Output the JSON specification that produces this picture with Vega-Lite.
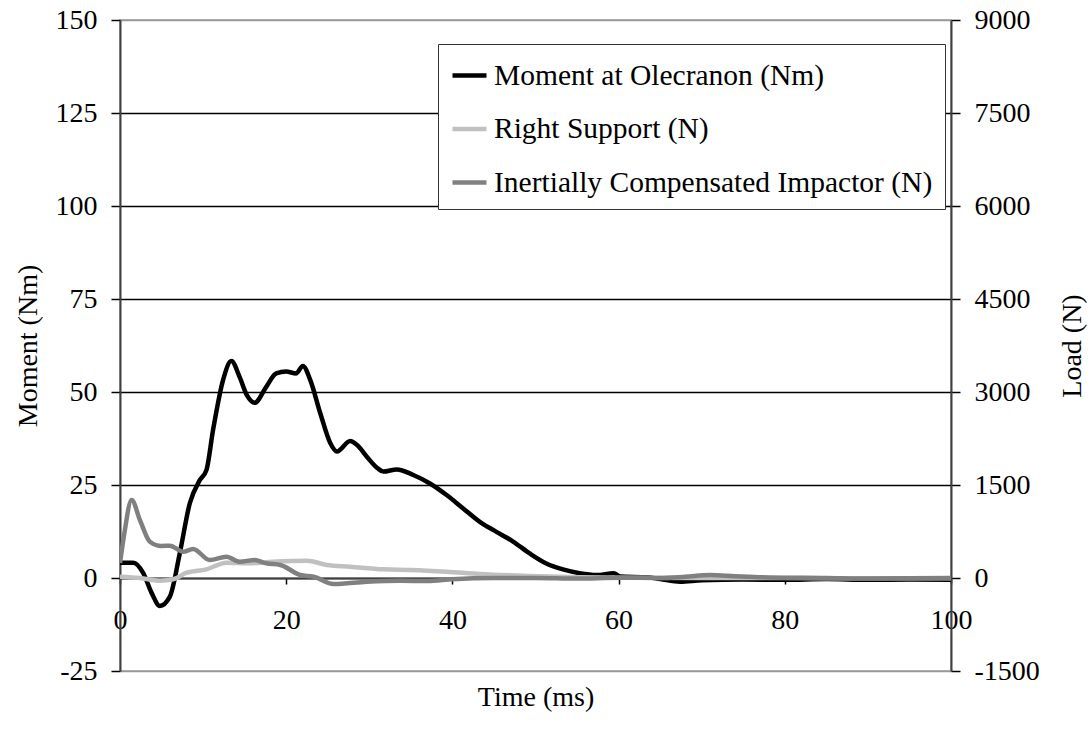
{
  "$schema": "https://vega.github.io/schema/vega-lite/v6.json",
  "width": 831,
  "height": 651,
  "autosize": {"type": "none"},
  "padding": {"left": 120, "top": 20, "right": 140, "bottom": 59},
  "background": "white",
  "config": {
    "font": "Liberation Serif",
    "view": {"stroke": "#999999", "strokeWidth": 1.5},
    "axis": {
      "labelFont": "Liberation Serif",
      "titleFont": "Liberation Serif",
      "labelFontSize": 28,
      "titleFontSize": 28,
      "labelColor": "black",
      "titleColor": "black",
      "titleFontWeight": "normal",
      "domainColor": "#404040",
      "domainWidth": 2,
      "tickColor": "black",
      "tickWidth": 1.5
    },
    "legend": {
      "labelFont": "Liberation Serif",
      "labelFontSize": 29.5,
      "labelColor": "black",
      "labelLimit": 700
    }
  },
  "datasets": {
    "curves": [
      {"t": 0, "series": "Moment at Olecranon (Nm)", "v": 4.1},
      {"t": 1.6, "series": "Moment at Olecranon (Nm)", "v": 4.1},
      {"t": 2.8, "series": "Moment at Olecranon (Nm)", "v": 1.3},
      {"t": 3.8, "series": "Moment at Olecranon (Nm)", "v": -4},
      {"t": 4.8, "series": "Moment at Olecranon (Nm)", "v": -7.5},
      {"t": 6.0, "series": "Moment at Olecranon (Nm)", "v": -5.0},
      {"t": 7.2, "series": "Moment at Olecranon (Nm)", "v": 6.7},
      {"t": 8.4, "series": "Moment at Olecranon (Nm)", "v": 20.1},
      {"t": 9.6, "series": "Moment at Olecranon (Nm)", "v": 26.3},
      {"t": 10.4, "series": "Moment at Olecranon (Nm)", "v": 29},
      {"t": 11.2, "series": "Moment at Olecranon (Nm)", "v": 39.8},
      {"t": 12.4, "series": "Moment at Olecranon (Nm)", "v": 53.2},
      {"t": 13.4, "series": "Moment at Olecranon (Nm)", "v": 58.3},
      {"t": 14.4, "series": "Moment at Olecranon (Nm)", "v": 54},
      {"t": 15.3, "series": "Moment at Olecranon (Nm)", "v": 49},
      {"t": 16.2, "series": "Moment at Olecranon (Nm)", "v": 47.1},
      {"t": 17.6, "series": "Moment at Olecranon (Nm)", "v": 51.4},
      {"t": 18.8, "series": "Moment at Olecranon (Nm)", "v": 55},
      {"t": 20, "series": "Moment at Olecranon (Nm)", "v": 55.5},
      {"t": 21.2, "series": "Moment at Olecranon (Nm)", "v": 55},
      {"t": 22.0, "series": "Moment at Olecranon (Nm)", "v": 57},
      {"t": 22.9, "series": "Moment at Olecranon (Nm)", "v": 53.2},
      {"t": 24.1, "series": "Moment at Olecranon (Nm)", "v": 44.3},
      {"t": 25.3, "series": "Moment at Olecranon (Nm)", "v": 36.3},
      {"t": 26.1, "series": "Moment at Olecranon (Nm)", "v": 34},
      {"t": 27.7, "series": "Moment at Olecranon (Nm)", "v": 36.8},
      {"t": 28.5, "series": "Moment at Olecranon (Nm)", "v": 35.8},
      {"t": 29.7, "series": "Moment at Olecranon (Nm)", "v": 32.6},
      {"t": 31.0, "series": "Moment at Olecranon (Nm)", "v": 29.5},
      {"t": 31.7, "series": "Moment at Olecranon (Nm)", "v": 28.6},
      {"t": 33.3, "series": "Moment at Olecranon (Nm)", "v": 29.2},
      {"t": 35.3, "series": "Moment at Olecranon (Nm)", "v": 27.7},
      {"t": 37.3, "series": "Moment at Olecranon (Nm)", "v": 25.4},
      {"t": 39.3, "series": "Moment at Olecranon (Nm)", "v": 22.3},
      {"t": 41.3, "series": "Moment at Olecranon (Nm)", "v": 18.7},
      {"t": 43.3, "series": "Moment at Olecranon (Nm)", "v": 15.1},
      {"t": 45.3, "series": "Moment at Olecranon (Nm)", "v": 12.4},
      {"t": 47.3, "series": "Moment at Olecranon (Nm)", "v": 9.8},
      {"t": 49.3, "series": "Moment at Olecranon (Nm)", "v": 6.6},
      {"t": 51.3, "series": "Moment at Olecranon (Nm)", "v": 3.9},
      {"t": 53.3, "series": "Moment at Olecranon (Nm)", "v": 2.3},
      {"t": 55.3, "series": "Moment at Olecranon (Nm)", "v": 1.3},
      {"t": 57.4, "series": "Moment at Olecranon (Nm)", "v": 0.8},
      {"t": 59.4, "series": "Moment at Olecranon (Nm)", "v": 1.3},
      {"t": 60.2, "series": "Moment at Olecranon (Nm)", "v": 0.4},
      {"t": 63.4, "series": "Moment at Olecranon (Nm)", "v": 0.2},
      {"t": 65, "series": "Moment at Olecranon (Nm)", "v": -0.3},
      {"t": 67.4, "series": "Moment at Olecranon (Nm)", "v": -1.0},
      {"t": 70, "series": "Moment at Olecranon (Nm)", "v": -0.6},
      {"t": 75, "series": "Moment at Olecranon (Nm)", "v": -0.4},
      {"t": 80, "series": "Moment at Olecranon (Nm)", "v": -0.5},
      {"t": 85, "series": "Moment at Olecranon (Nm)", "v": -0.3},
      {"t": 90, "series": "Moment at Olecranon (Nm)", "v": -0.5},
      {"t": 95, "series": "Moment at Olecranon (Nm)", "v": -0.4},
      {"t": 100, "series": "Moment at Olecranon (Nm)", "v": -0.5},

      {"t": 0, "series": "Right Support (N)", "v": 21},
      {"t": 2.4, "series": "Right Support (N)", "v": 0},
      {"t": 4.8, "series": "Right Support (N)", "v": -43},
      {"t": 6.4, "series": "Right Support (N)", "v": -21},
      {"t": 8.0, "series": "Right Support (N)", "v": 85},
      {"t": 10.4, "series": "Right Support (N)", "v": 140},
      {"t": 12.8, "series": "Right Support (N)", "v": 247},
      {"t": 15.6, "series": "Right Support (N)", "v": 237},
      {"t": 18.4, "series": "Right Support (N)", "v": 263},
      {"t": 22.5, "series": "Right Support (N)", "v": 279},
      {"t": 24.9, "series": "Right Support (N)", "v": 210},
      {"t": 27.7, "series": "Right Support (N)", "v": 182},
      {"t": 31.7, "series": "Right Support (N)", "v": 140},
      {"t": 35, "series": "Right Support (N)", "v": 130},
      {"t": 39.3, "series": "Right Support (N)", "v": 102},
      {"t": 43.3, "series": "Right Support (N)", "v": 65},
      {"t": 49.3, "series": "Right Support (N)", "v": 32},
      {"t": 55.3, "series": "Right Support (N)", "v": 12},
      {"t": 60, "series": "Right Support (N)", "v": 5},
      {"t": 70, "series": "Right Support (N)", "v": 0},
      {"t": 80, "series": "Right Support (N)", "v": 0},
      {"t": 90, "series": "Right Support (N)", "v": -5},
      {"t": 100, "series": "Right Support (N)", "v": -5},

      {"t": 0, "series": "Inertially Compensated Impactor (N)", "v": 240},
      {"t": 0.5, "series": "Inertially Compensated Impactor (N)", "v": 700},
      {"t": 1.4, "series": "Inertially Compensated Impactor (N)", "v": 1258},
      {"t": 2.4, "series": "Inertially Compensated Impactor (N)", "v": 935},
      {"t": 3.6, "series": "Inertially Compensated Impactor (N)", "v": 585},
      {"t": 5.0, "series": "Inertially Compensated Impactor (N)", "v": 516},
      {"t": 6.0, "series": "Inertially Compensated Impactor (N)", "v": 521},
      {"t": 7.6, "series": "Inertially Compensated Impactor (N)", "v": 424},
      {"t": 8.8, "series": "Inertially Compensated Impactor (N)", "v": 468},
      {"t": 10.8, "series": "Inertially Compensated Impactor (N)", "v": 290},
      {"t": 12.8, "series": "Inertially Compensated Impactor (N)", "v": 344},
      {"t": 14.4, "series": "Inertially Compensated Impactor (N)", "v": 263},
      {"t": 16.2, "series": "Inertially Compensated Impactor (N)", "v": 290},
      {"t": 17.6, "series": "Inertially Compensated Impactor (N)", "v": 237},
      {"t": 19.3, "series": "Inertially Compensated Impactor (N)", "v": 210},
      {"t": 21.7, "series": "Inertially Compensated Impactor (N)", "v": 48},
      {"t": 23.3, "series": "Inertially Compensated Impactor (N)", "v": 21},
      {"t": 25.7, "series": "Inertially Compensated Impactor (N)", "v": -97},
      {"t": 29.7, "series": "Inertially Compensated Impactor (N)", "v": -60},
      {"t": 33.7, "series": "Inertially Compensated Impactor (N)", "v": -43},
      {"t": 37, "series": "Inertially Compensated Impactor (N)", "v": -50},
      {"t": 40, "series": "Inertially Compensated Impactor (N)", "v": -20},
      {"t": 45, "series": "Inertially Compensated Impactor (N)", "v": 0},
      {"t": 50, "series": "Inertially Compensated Impactor (N)", "v": 0},
      {"t": 55, "series": "Inertially Compensated Impactor (N)", "v": -10},
      {"t": 60, "series": "Inertially Compensated Impactor (N)", "v": 5},
      {"t": 65, "series": "Inertially Compensated Impactor (N)", "v": 0},
      {"t": 68, "series": "Inertially Compensated Impactor (N)", "v": 20},
      {"t": 71, "series": "Inertially Compensated Impactor (N)", "v": 48},
      {"t": 74, "series": "Inertially Compensated Impactor (N)", "v": 30},
      {"t": 78, "series": "Inertially Compensated Impactor (N)", "v": 10},
      {"t": 85, "series": "Inertially Compensated Impactor (N)", "v": 0},
      {"t": 90, "series": "Inertially Compensated Impactor (N)", "v": -10},
      {"t": 100, "series": "Inertially Compensated Impactor (N)", "v": 0}
    ]
  },
  "data": {"name": "curves"},
  "layer": [
    {
      "transform": [{"filter": "datum.series === 'Moment at Olecranon (Nm)'"}],
      "mark": {"type": "line", "interpolate": "monotone", "strokeWidth": 4.5, "clip": true},
      "encoding": {
        "x": {
          "field": "t", "type": "quantitative",
          "scale": {"domain": [0, 100], "nice": false, "zero": false},
          "axis": {
            "title": "Time (ms)",
            "values": [0, 20, 40, 60, 80, 100],
            "offset": -93,
            "grid": false,
            "tickSize": 6,
            "labelPadding": 22,
            "labelFlush": false,
            "labelOverlap": false,
            "titleY": 119,
            "titleBaseline": "middle"
          }
        },
        "y": {
          "field": "v", "type": "quantitative",
          "scale": {"domain": [-25, 150], "nice": false, "zero": false},
          "axis": {
            "orient": "left",
            "title": "Moment (Nm)",
            "values": [-25, 0, 25, 50, 75, 100, 125, 150],
            "labelExpr": "'' + datum.value",
            "grid": true,
            "gridColor": {"condition": {"test": "datum.value == 150 || datum.value == -25", "value": "#999999"}, "value": "#000000"},
            "gridWidth": 1.5,
            "tickSize": 9,
            "labelPadding": 14,
            "titleX": -92,
            "titleY": 325.5,
            "titleAngle": 270,
            "titleBaseline": "middle",
            "titleAlign": "center"
          }
        },
        "color": {
          "field": "series", "type": "nominal",
          "scale": {
            "domain": ["Moment at Olecranon (Nm)", "Right Support (N)", "Inertially Compensated Impactor (N)"],
            "range": ["#000000", "#c0c0c0", "#808080"]
          },
          "legend": {
            "title": null,
            "orient": "none",
            "legendX": 318,
            "legendY": 24,
            "symbolType": "stroke",
            "symbolSize": 1156,
            "symbolStrokeWidth": 4.5,
            "labelOffset": 5,
            "rowPadding": 19.5,
            "padding": 12,
            "strokeColor": "#333333",
            "fillColor": "white",
            "values": ["Moment at Olecranon (Nm)", "Right Support (N)", "Inertially Compensated Impactor (N)"]
          }
        }
      }
    },
    {
      "transform": [{"filter": "datum.series !== 'Moment at Olecranon (Nm)'"}],
      "mark": {"type": "line", "interpolate": "monotone", "strokeWidth": 4.5, "clip": true},
      "encoding": {
        "x": {
          "field": "t", "type": "quantitative",
          "scale": {"domain": [0, 100], "nice": false, "zero": false},
          "axis": {
            "title": "Time (ms)",
            "values": [0, 20, 40, 60, 80, 100],
            "offset": -93,
            "grid": false,
            "tickSize": 6,
            "labelPadding": 22,
            "labelFlush": false,
            "labelOverlap": false,
            "titleY": 119,
            "titleBaseline": "middle"
          }
        },
        "y": {
          "field": "v", "type": "quantitative",
          "scale": {"domain": [-1500, 9000], "nice": false, "zero": false},
          "axis": {
            "orient": "right",
            "title": "Load (N)",
            "values": [-1500, 0, 1500, 3000, 4500, 6000, 7500, 9000],
            "labelExpr": "'' + datum.value",
            "grid": false,
            "tickSize": 9,
            "labelPadding": 14,
            "titleX": 121,
            "titleY": 325.5,
            "titleAngle": 270,
            "titleBaseline": "middle",
            "titleAlign": "center"
          }
        },
        "color": {
          "field": "series", "type": "nominal",
          "scale": {
            "domain": ["Moment at Olecranon (Nm)", "Right Support (N)", "Inertially Compensated Impactor (N)"],
            "range": ["#000000", "#c0c0c0", "#808080"]
          },
          "legend": {
            "title": null,
            "orient": "none",
            "legendX": 318,
            "legendY": 24,
            "symbolType": "stroke",
            "symbolSize": 1156,
            "symbolStrokeWidth": 4.5,
            "labelOffset": 5,
            "rowPadding": 19.5,
            "padding": 12,
            "strokeColor": "#333333",
            "fillColor": "white",
            "values": ["Moment at Olecranon (Nm)", "Right Support (N)", "Inertially Compensated Impactor (N)"]
          }
        }
      }
    }
  ],
  "resolve": {"scale": {"y": "independent"}}
}
